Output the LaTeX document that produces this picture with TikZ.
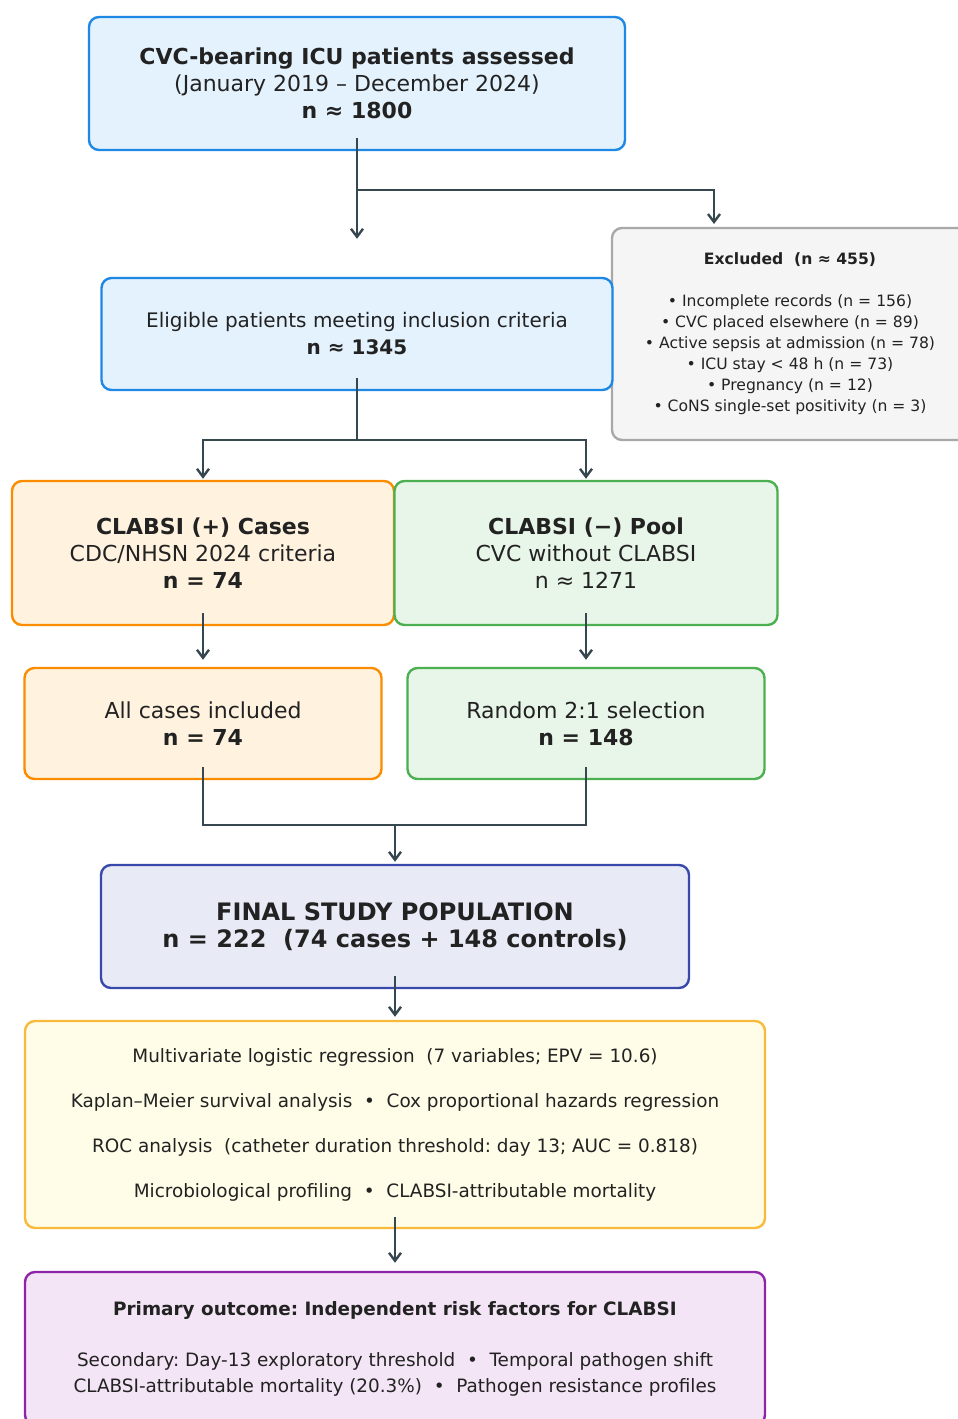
\documentclass[tikz,border=0pt]{standalone}
\usepackage{fontspec}
\setmainfont{DejaVu Sans}
\usetikzlibrary{arrows.meta}
\usetikzlibrary{calc}
\frenchspacing

\definecolor{bluefill}{HTML}{E3F2FD}
\definecolor{blueline}{HTML}{1E88E5}
\definecolor{grayfill}{HTML}{F5F5F5}
\definecolor{grayline}{HTML}{A8A8A8}
\definecolor{orangefill}{HTML}{FFF3E0}
\definecolor{orangeline}{HTML}{FB8C00}
\definecolor{greenfill}{HTML}{E8F5E9}
\definecolor{greenline}{HTML}{4CAF50}
\definecolor{lavfill}{HTML}{E8EAF6}
\definecolor{lavline}{HTML}{3949AB}
\definecolor{yelfill}{HTML}{FFFDE7}
\definecolor{yelline}{HTML}{F9BA3C}
\definecolor{purfill}{HTML}{F3E5F5}
\definecolor{purline}{HTML}{8E24AA}
\definecolor{flowline}{HTML}{37474F}
\definecolor{txt}{HTML}{222222}

\begin{document}
\begin{tikzpicture}[x=0.5pt, y=-0.5pt,
		box/.style={rectangle, rounded corners=5pt, line width=1.2pt, inner sep=0pt, align=center, text=txt},
		bigtext/.style={font=\fontsize{11}{13.5}\selectfont},
		smalltext/.style={font=\fontsize{7.8}{10.5}\selectfont},
		midtext/.style={font=\fontsize{9.2}{22.5}\selectfont},
		link/.style={draw=flowline, line width=1.2pt},
		flow/.style={link, -{Straight Barb[length=4pt, width=6pt]}}]
		\clip (0,0) rectangle (958,1419);

		\node[box, bigtext, fill=bluefill, draw=blueline, minimum width=268pt, minimum height=66.5pt] (assessed) at (357,83.5)
			{\textbf{CVC-bearing ICU patients assessed}\\(January 2019 – December 2024)\\\textbf{n ≈ 1800}};

		\node[box, smalltext, fill=grayfill, draw=grayline, minimum width=178pt, minimum height=106pt] (excluded) at (790,334)
			{\textbf{Excluded\ \ (n ≈ 455)}\\[10.5pt]
			• Incomplete records (n = 156)\\
			• CVC placed elsewhere (n = 89)\\
			• Active sepsis at admission (n = 78)\\
			• ICU stay < 48 h (n = 73)\\
			• Pregnancy (n = 12)\\
			• CoNS single-set positivity (n = 3)};

		\node[box, font=\fontsize{10}{13.5}\selectfont, fill=bluefill, draw=blueline, minimum width=255.5pt, minimum height=56pt] (eligible) at (357,334)
			{Eligible patients meeting inclusion criteria\\\textbf{n ≈ 1345}};

		\node[box, bigtext, fill=orangefill, draw=orangeline, minimum width=191pt, minimum height=72pt] (cases) at (203,553)
			{\textbf{CLABSI (+) Cases}\\CDC/NHSN 2024 criteria\\\textbf{n = 74}};
		\node[box, bigtext, fill=greenfill, draw=greenline, minimum width=191.5pt, minimum height=72pt] (pool) at (586,553)
			{\textbf{CLABSI (−) Pool}\\CVC without CLABSI\\n ≈ 1271};

		\node[box, bigtext, fill=orangefill, draw=orangeline, minimum width=178.5pt, minimum height=55.5pt] (allcases) at (203,723.5)
			{All cases included\\\textbf{n = 74}};
		\node[box, bigtext, fill=greenfill, draw=greenline, minimum width=178.5pt, minimum height=55.5pt] (random) at (586,723.5)
			{Random 2:1 selection\\\textbf{n = 148}};

		\node[box, font=\fontsize{12}{13.5}\selectfont\bfseries, fill=lavfill, draw=lavline, minimum width=294pt, minimum height=61.5pt] (final) at (395,926.5)
			{FINAL STUDY POPULATION\\n = 222\ \ (74 cases + 148 controls)};

		\node[box, midtext, fill=yelfill, draw=yelline, minimum width=370pt, minimum height=103.5pt] (analysis) at (395,1124.5)
			{Multivariate logistic regression\ \ (7 variables; EPV = 10.6)\\
			Kaplan–Meier survival analysis\ \ •\ \ Cox proportional hazards regression\\
			ROC analysis\ \ (catheter duration threshold: day 13; AUC = 0.818)\\
			Microbiological profiling\ \ •\ \ CLABSI-attributable mortality};

		\node[box, font=\fontsize{9.2}{13}\selectfont, fill=purfill, draw=purline, minimum width=370pt, minimum height=76.5pt] (outcome) at (395,1348.5)
			{\textbf{Primary outcome: Independent risk factors for CLABSI}\\[12.5pt]
			Secondary: Day-13 exploratory threshold\ \ •\ \ Temporal pathogen shift\\
			CLABSI-attributable mortality (20.3\%)\ \ •\ \ Pathogen resistance profiles};

		% junctions
		\coordinate (split) at (357,190);
		\coordinate (exclin) at (714,224);
		\coordinate (fork) at (357,440);
		\coordinate (merge) at (395,825);

		% screening
		\draw[flow] ([yshift=6.5pt]assessed.south) -- ([yshift=19pt]eligible.north);
		\draw[flow] (split) -| (exclin);

		% eligible to groups
		\draw[link] ([yshift=6.5pt]eligible.south) -- (fork);
		\draw[flow] (fork) -| ([yshift=0.5pt]cases.north);
		\draw[flow] (fork) -| ([yshift=0.5pt]pool.north);

		% groups to selection
		\draw[flow] ([yshift=6.5pt]cases.south) -- ([yshift=3.5pt]allcases.north);
		\draw[flow] ([yshift=6.5pt]pool.south) -- ([yshift=3.5pt]random.north);

		% selection to final
		\draw[link] ([yshift=6.5pt]allcases.south) |- (merge);
		\draw[link] ([yshift=6.5pt]random.south) |- (merge);
		\draw[flow] (merge) -- ([yshift=1pt]final.north);

		% final to analysis to outcome
		\draw[flow] ([yshift=6.5pt]final.south) -- ([yshift=1.5pt]analysis.north);
		\draw[flow] ([yshift=6pt]analysis.south) -- ([yshift=4pt]outcome.north);
	\end{tikzpicture}
\end{document}
